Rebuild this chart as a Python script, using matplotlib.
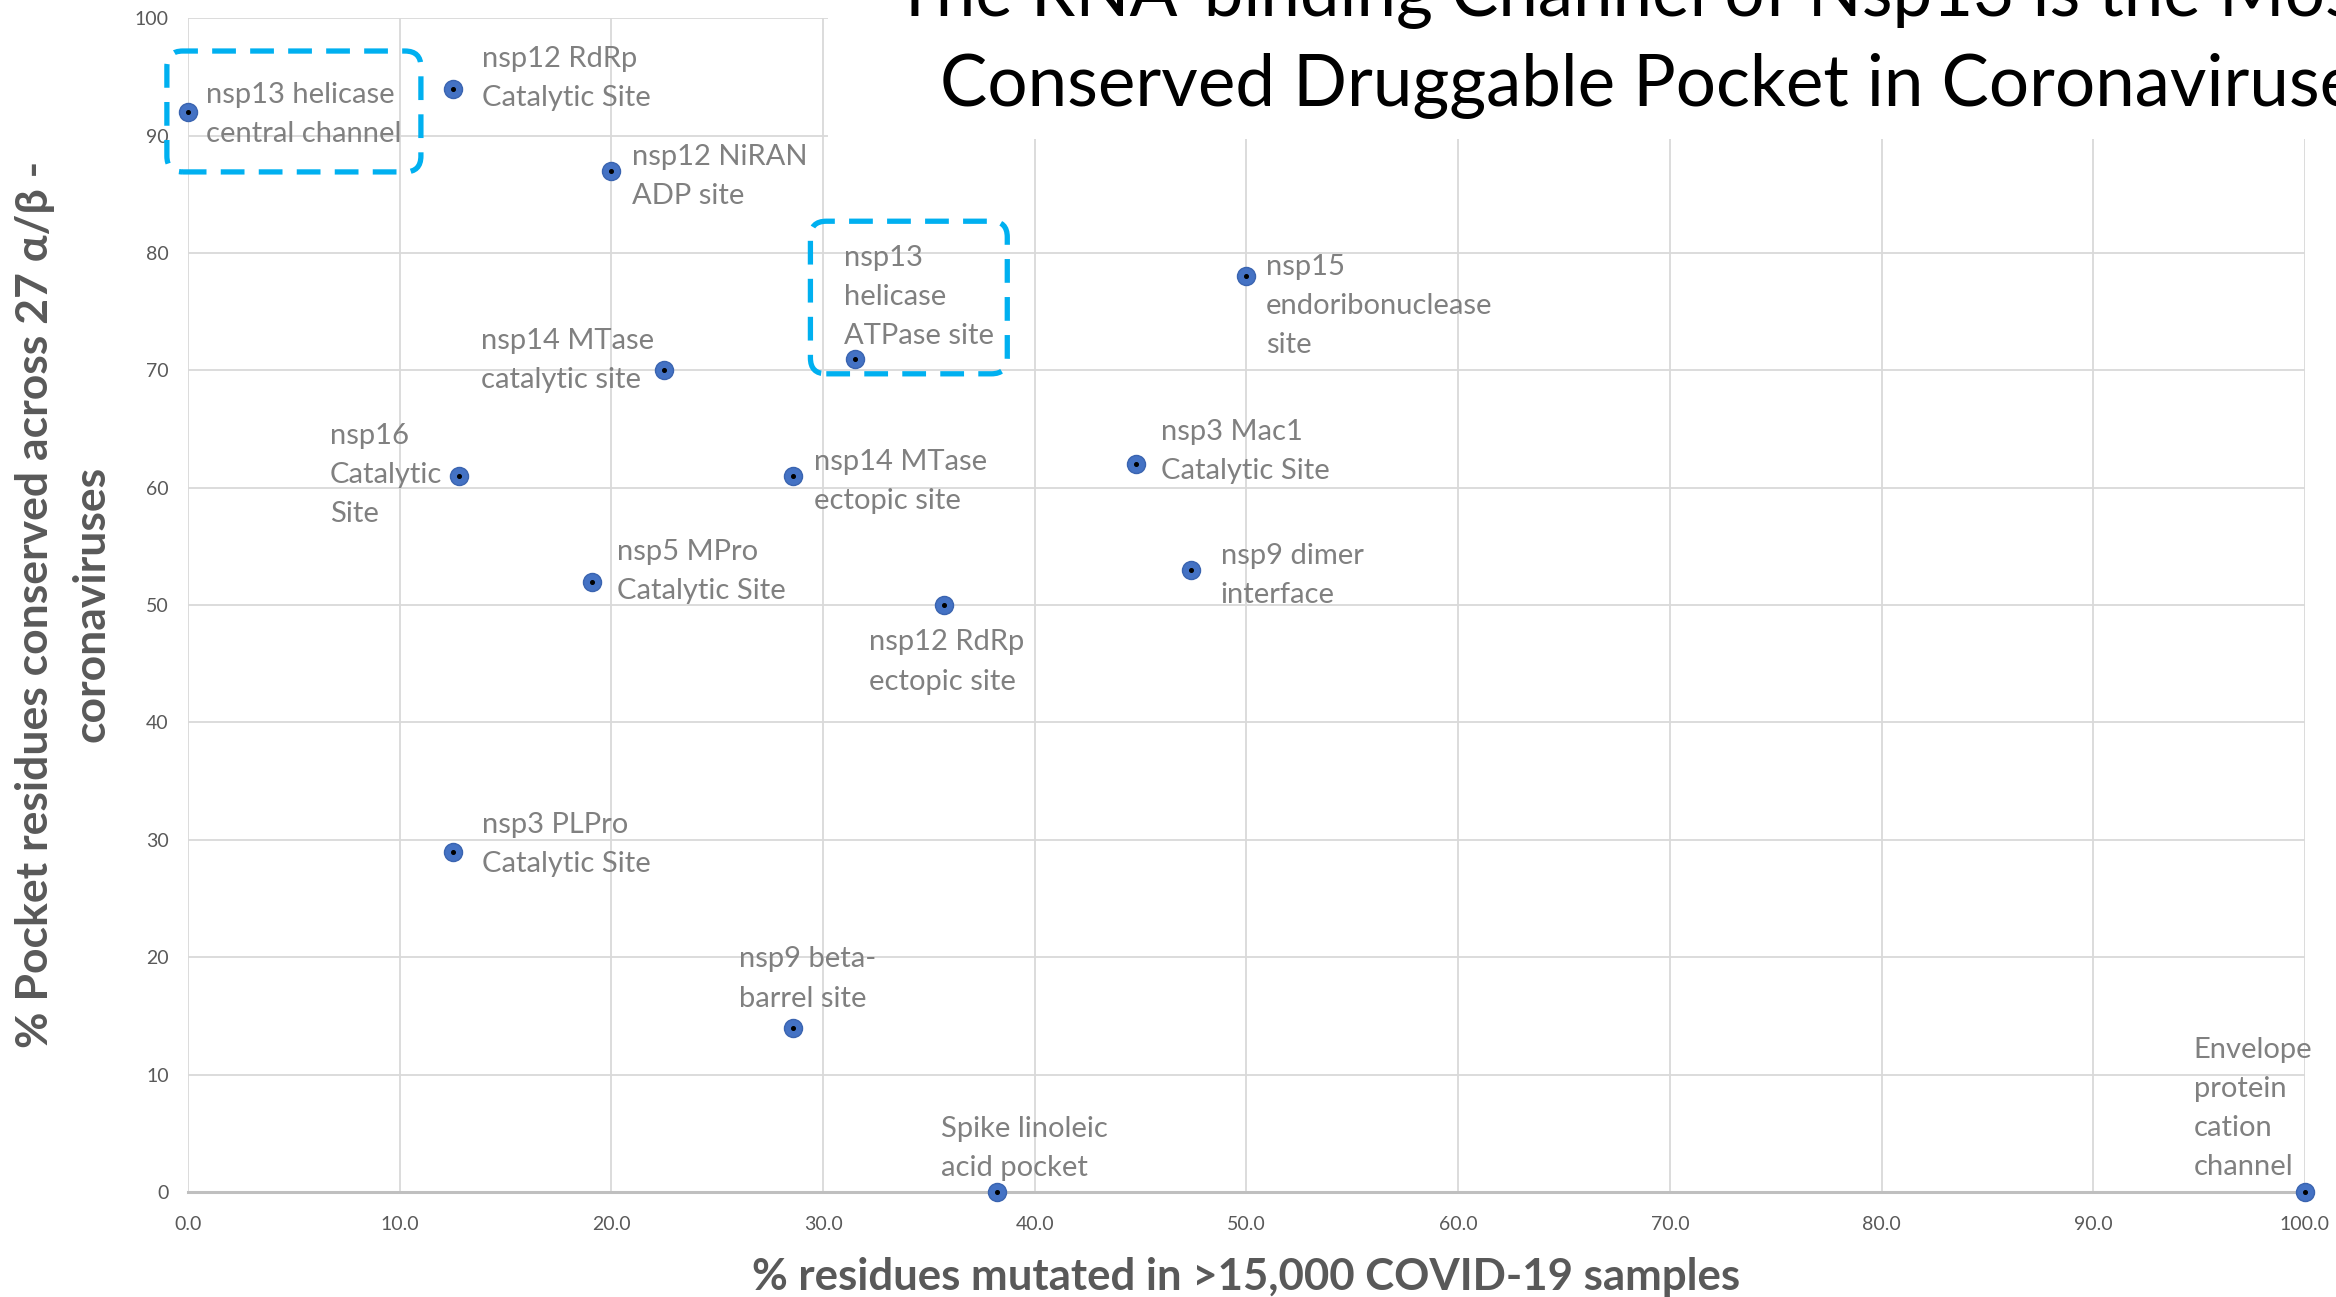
import matplotlib
matplotlib.use('Agg')
import matplotlib.pyplot as plt
from matplotlib.patches import FancyBboxPatch, Rectangle

plt.rcParams['font.family'] = ['Lato', 'DejaVu Sans']

# pocket names, % residues mutated (x) and % residues conserved (y)
sites = ['nsp13 helicase\ncentral channel', 'nsp12 RdRp\nCatalytic Site',
         'nsp12 NiRAN\nADP site', 'nsp13\nhelicase\nATPase site',
         'nsp15\nendoribonuclease\nsite', 'nsp14 MTase\ncatalytic site',
         'nsp16\nCatalytic\nSite', 'nsp14 MTase\nectopic site',
         'nsp3 Mac1\nCatalytic Site', 'nsp5 MPro\nCatalytic Site',
         'nsp9 dimer\ninterface', 'nsp12 RdRp\nectopic site',
         'nsp3 PLPro\nCatalytic Site', 'nsp9 beta-\nbarrel site',
         'Spike linoleic\nacid pocket', 'Envelope\nprotein\ncation\nchannel']
mutated = [0.0, 12.5, 20.0, 31.5, 50.0, 22.5, 12.8, 28.6,
           44.8, 19.1, 47.4, 35.7, 12.5, 28.6, 38.2, 100.0]
conserved = [92, 94, 87, 71, 78, 70, 61, 61, 62, 52, 53, 50, 29, 14, 0, 0]

# label offsets from each point (points)
offs = [(13, -2), (21, 7), (15, -4), (-8, 44), (14, -21), (-132, 7),
        (-93, 1), (15, -4), (18, 9), (18, 7), (21, -4), (-54, -41),
        (21, 5), (-39, 35), (-40, 31), (-80, 60)]

# highlighted pockets (x0, x1, y0, y1)
boxes = [(-1.0, 11.0, 86.9, 97.2), (29.4, 38.7, 69.7, 82.7)]

fig = plt.figure(figsize=(23.36, 12.97), dpi=100)
ax = fig.add_axes([0.0805, 0.081, 0.9062, 0.905])
ax.set_xlim(0, 100)
ax.set_ylim(0, 100)
ax.set_xticks(range(0, 101, 10))
ax.set_yticks(range(0, 101, 10))
ax.set_xticklabels(['%.1f' % v for v in range(0, 101, 10)])
ax.grid(True, color='#d9d9d9', lw=1.3, zorder=0)
ax.set_axisbelow(True)
for s in ['top', 'right', 'left']:
    ax.spines[s].set_visible(False)
ax.spines['bottom'].set_color('#bfbfbf')
ax.spines['bottom'].set_linewidth(2.2)
ax.tick_params(length=0, labelsize=14, colors='#595959')
ax.tick_params(axis='x', pad=17)
ax.tick_params(axis='y', pad=14)

ax.plot(mutated, conserved, 'o', ms=13, color='#4472c4', mec='#3a64b0', mew=1,
        clip_on=False, zorder=4)
ax.plot(mutated, conserved, 'o', ms=2.6, color='black', clip_on=False, zorder=5)

for name, x, y, (dx, dy) in zip(sites, mutated, conserved, offs):
    ax.annotate(name, (x, y), xytext=(dx, dy), textcoords='offset points',
                ha='left', va='center', fontsize=21, color='#808080',
                linespacing=1.62, zorder=6)

for x0, x1, y0, y1 in boxes:
    ax.add_patch(FancyBboxPatch((x0, y0), x1 - x0, y1 - y0,
                                boxstyle='round,pad=0,rounding_size=0.75',
                                mutation_aspect=1.8, fill=False,
                                ec='#00b0f0', lw=3.8, ls=(0, (4.5, 2.7)),
                                clip_on=False, zorder=3))

# white panel behind the title
fig.patches.append(Rectangle((0.3545, 0.893), 0.7, 0.2, transform=fig.transFigure,
                             fc='white', ec='none', zorder=1))
fig.text(0.3827, 1.003, 'The RNA-binding Channel of Nsp13 is the Most',
         fontsize=51, color='black', ha='left', va='center', zorder=2)
fig.text(0.4024, 0.934, 'Conserved Druggable Pocket in Coronaviruses',
         fontsize=51, color='black', ha='left', va='center', zorder=2)

fig.text(0.5334, 0.0154, '% residues mutated in >15,000 COVID-19 samples',
         fontsize=31.5, fontweight='bold', color='#595959', ha='center', va='center')
fig.text(0.027, 0.534, '% Pocket residues conserved across 27 \u03b1/\u03b2 -\ncoronaviruses',
         fontsize=32, fontweight='bold', color='#595959', ha='center', va='center',
         rotation=90, multialignment='center', linespacing=1.5)

fig.savefig('out.png', dpi=100)
